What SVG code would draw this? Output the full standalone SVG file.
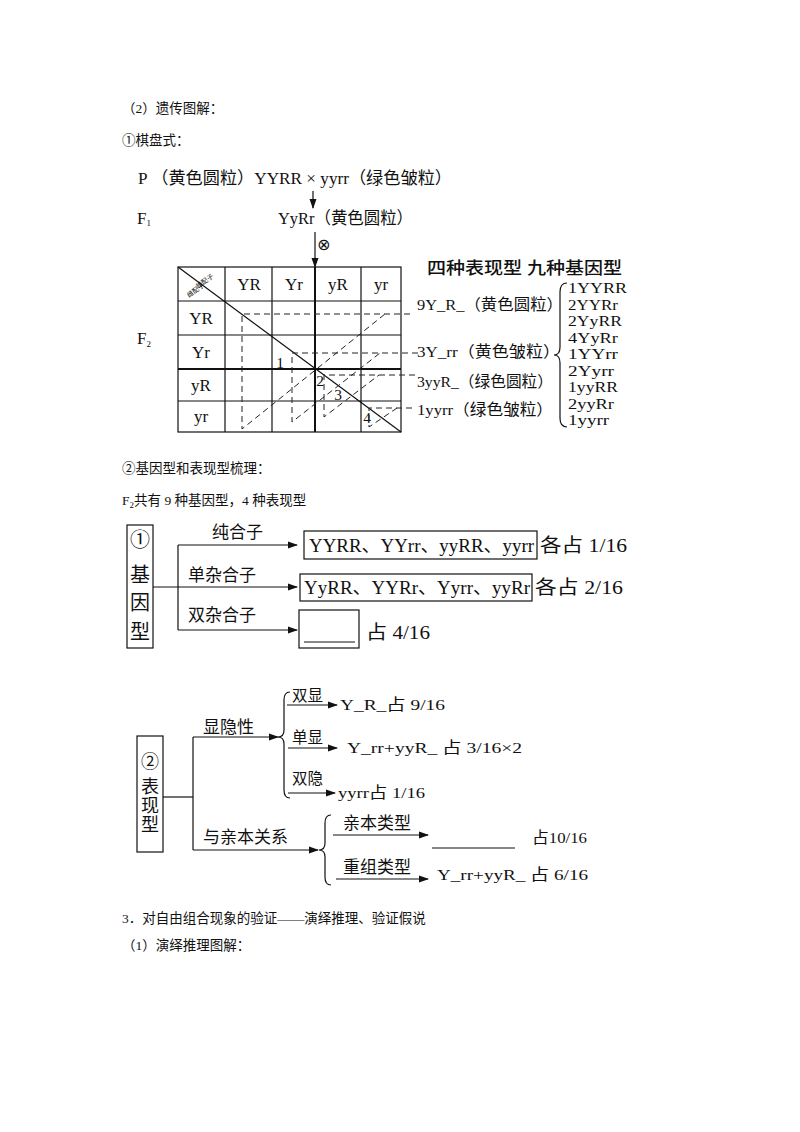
<svg xmlns="http://www.w3.org/2000/svg" width="800" height="1132" viewBox="0 0 800 1132">
<style>
text{font-family:'Liberation Serif','Noto Sans CJK SC',serif;fill:#111}
.h{font-size:13.5px}
.m{font-size:17px}
.s{font-size:15.5px}
.g{font-size:14.5px}
.b{font-size:19px}
.ln{stroke:#111;stroke-width:1.2;fill:none}
.th{stroke:#111;stroke-width:2;fill:none}
.d{stroke:#222;stroke-width:1;stroke-dasharray:6,4;fill:none}
.ar{stroke:#111;stroke-width:1.2;fill:none;marker-end:url(#ah)}
</style>
<defs>
<marker id="ah" markerWidth="10" markerHeight="8" refX="9" refY="4" orient="auto" markerUnits="userSpaceOnUse">
<path d="M0,0.5 L10,4 L0,7.5 Z" fill="#111"/>
</marker>
</defs>
<rect width="800" height="1132" fill="#fff"/>

<g id="headers">
<text class="h" x="122" y="113">（2）遗传图解：</text>
<text class="h" x="122" y="145">①棋盘式：</text>
<text class="h" x="122" y="473">②基因型和表现型梳理：</text>
<text class="h" x="122" y="505">F<tspan font-size="9" dy="3">2</tspan><tspan dy="-3">共有 9 种基因型，4 种表现型</tspan></text>
<text class="h" x="122" y="923">3．对自由组合现象的验证——演绎推理、验证假说</text>
<text class="h" x="122" y="950">（1）演绎推理图解：</text>
</g>

<g id="cross">
<text class="m" x="138" y="184" textLength="314" lengthAdjust="spacingAndGlyphs">P （黄色圆粒）YYRR × yyrr（绿色皱粒）</text>
<text class="m" x="137" y="224">F<tspan font-size="9" dy="2">1</tspan></text>
<text class="m" x="278" y="224" textLength="135" lengthAdjust="spacingAndGlyphs">YyRr（黄色圆粒）</text>
<text style="font-family:'DejaVu Sans',sans-serif;font-size:16px" x="317" y="250">⊗</text>
<text class="m" x="137" y="344">F<tspan font-size="9" dy="3">2</tspan></text>
</g>

<g id="punnett">
<rect x="178" y="267" width="223" height="165" class="ln"/>
<line x1="225" y1="267" x2="225" y2="432" class="ln"/>
<line x1="272" y1="267" x2="272" y2="432" class="ln"/>
<line x1="315" y1="267" x2="315" y2="432" class="th"/>
<line x1="361" y1="267" x2="361" y2="432" class="ln"/>
<line x1="178" y1="301" x2="401" y2="301" class="ln"/>
<line x1="178" y1="335" x2="401" y2="335" class="ln"/>
<line x1="178" y1="369" x2="401" y2="369" class="th"/>
<line x1="178" y1="401" x2="401" y2="401" class="ln"/>
<line x1="178" y1="267" x2="401" y2="432" class="ln"/>
<text font-size="6.5" transform="translate(206,283) rotate(-36)" text-anchor="middle">雄配子</text>
<text font-size="6.5" transform="translate(197,292) rotate(-36)" text-anchor="middle">雌配子</text>
<g class="m" text-anchor="middle">
<text x="249" y="290">YR</text>
<text x="294" y="290">Yr</text>
<text x="338" y="290">yR</text>
<text x="381" y="290">yr</text>
<text x="201" y="324">YR</text>
<text x="201" y="358">Yr</text>
<text x="201" y="391">yR</text>
<text x="201" y="422">yr</text>
</g>
<g class="s" text-anchor="middle">
<text x="280" y="368">1</text>
<text x="320" y="386">2</text>
<text x="338" y="400">3</text>
<text x="367" y="423">4</text>
</g>
<path class="d" d="M410,314 H242 V429 L385,314"/>
<path class="d" d="M418,353 H292 V422 L380,353"/>
<path class="d" d="M415,375 H324 V417 L379,375"/>
<path class="d" d="M412,408 H369 V427 L397,408"/>
</g>

<g id="phenotypes">
<text class="m" x="427" y="274" font-weight="500" textLength="195" lengthAdjust="spacingAndGlyphs">四种表现型  九种基因型</text>
<text class="s" x="417" y="310" textLength="146" lengthAdjust="spacingAndGlyphs">9Y_R_（黄色圆粒）</text>
<text class="s" x="417" y="357" textLength="143" lengthAdjust="spacingAndGlyphs">3Y_rr（黄色皱粒）</text>
<text class="s" x="417" y="387" textLength="136" lengthAdjust="spacingAndGlyphs">3yyR_（绿色圆粒）</text>
<text class="s" x="417" y="415" textLength="136" lengthAdjust="spacingAndGlyphs">1yyrr（绿色皱粒）</text>
<path class="ln" d="M567,283 Q560,283 560,292 L560,347 Q560,355 554,355 Q560,355 560,363 L560,418 Q560,427 567,427"/>
<g class="g" lengthAdjust="spacingAndGlyphs">
<text x="568" y="293" textLength="59" lengthAdjust="spacingAndGlyphs">1YYRR</text>
<text x="568" y="309.5" textLength="50" lengthAdjust="spacingAndGlyphs">2YYRr</text>
<text x="568" y="326" textLength="54" lengthAdjust="spacingAndGlyphs">2YyRR</text>
<text x="568" y="342.5" textLength="50" lengthAdjust="spacingAndGlyphs">4YyRr</text>
<text x="568" y="359" textLength="50" lengthAdjust="spacingAndGlyphs">1YYrr</text>
<text x="568" y="375.5" textLength="46" lengthAdjust="spacingAndGlyphs">2Yyrr</text>
<text x="568" y="392" textLength="50" lengthAdjust="spacingAndGlyphs">1yyRR</text>
<text x="568" y="408.5" textLength="46" lengthAdjust="spacingAndGlyphs">2yyRr</text>
<text x="568" y="425" textLength="41" lengthAdjust="spacingAndGlyphs">1yyrr</text>
</g>
</g>

<g id="genotype-box">
<rect x="127" y="525" width="26" height="123" class="ln"/>
<g font-size="20" text-anchor="middle">
<text x="140" y="547">①</text>
<text x="140" y="582">基</text>
<text x="140" y="610">因</text>
<text x="140" y="639">型</text>
</g>
</g>

<g id="genotype-items">
<text class="m" x="212" y="538">纯合子</text>
<text class="m" x="188" y="581">单杂合子</text>
<text class="m" x="188" y="621">双杂合子</text>
<rect x="304" y="531" width="233" height="28" class="ln"/>
<text class="b" x="309" y="552" textLength="225" lengthAdjust="spacingAndGlyphs">YYRR、YYrr、yyRR、yyrr</text>
<text class="b" x="540" y="552" textLength="87" lengthAdjust="spacingAndGlyphs">各占 1/16</text>
<rect x="300" y="574" width="232" height="27" class="ln"/>
<text class="b" x="304" y="594" textLength="226" lengthAdjust="spacingAndGlyphs">YyRR、YYRr、Yyrr、yyRr</text>
<text class="b" x="535" y="594" textLength="88" lengthAdjust="spacingAndGlyphs">各占 2/16</text>
<rect x="299" y="610" width="60" height="38" class="ln"/>
<line x1="304" y1="642" x2="355" y2="642" class="ln"/>
<text class="b" x="366" y="639" textLength="64" lengthAdjust="spacingAndGlyphs">占 4/16</text>
</g>

<g id="phenotype-box">
<rect x="137" y="736" width="26" height="116" class="ln"/>
<g font-size="18" text-anchor="middle">
<text x="150" y="768">②</text>
<text x="150" y="793">表</text>
<text x="150" y="812">现</text>
<text x="150" y="831">型</text>
</g>
</g>

<g id="phenotype-items">
<text class="m" x="203" y="733">显隐性</text>
<text class="m" x="203" y="843">与亲本关系</text>
<path class="ln" d="M290,692 Q284,692 284,700 L284,730 Q284,737 278,737 Q284,737 284,744 L284,790 Q284,798 290,798"/>
<text class="s" x="292" y="701">双显</text>
<text class="s" x="340" y="710" textLength="105" lengthAdjust="spacingAndGlyphs">Y_R_占 9/16</text>
<text class="s" x="292" y="743">单显</text>
<text class="s" x="347" y="753" textLength="175" lengthAdjust="spacingAndGlyphs">Y_rr+yyR_ 占 3/16×2</text>
<text class="s" x="292" y="784">双隐</text>
<text class="s" x="338" y="798" textLength="87" lengthAdjust="spacingAndGlyphs">yyrr占 1/16</text>
<path class="ln" d="M331,815 Q325,815 325,823 L325,843 Q325,850 319,850 Q325,850 325,857 L325,877 Q325,885 331,885"/>
<text class="m" x="343" y="829">亲本类型</text>
<line x1="432" y1="848" x2="515" y2="848" class="ln"/>
<text class="s" x="532" y="843" textLength="55" lengthAdjust="spacingAndGlyphs">占10/16</text>
<text class="m" x="343" y="873">重组类型</text>
<text class="s" x="437" y="880" textLength="151" lengthAdjust="spacingAndGlyphs">Y_rr+yyR_ 占 6/16</text>
</g>

<g id="connectors">
<line x1="313" y1="191" x2="313" y2="208" class="ar"/>
<line x1="315" y1="232" x2="315" y2="267" class="ar"/>
<line x1="153" y1="587" x2="297" y2="587" class="ar"/>
<line x1="178" y1="545" x2="178" y2="630" class="ln"/>
<line x1="178" y1="545" x2="297" y2="545" class="ar"/>
<line x1="178" y1="630" x2="297" y2="630" class="ar"/>
<line x1="163" y1="797" x2="193" y2="797" class="ln"/>
<line x1="193" y1="737" x2="193" y2="850" class="ln"/>
<line x1="193" y1="737" x2="278" y2="737" class="ar"/>
<line x1="193" y1="850" x2="318" y2="850" class="ar"/>
<line x1="287" y1="705" x2="337" y2="705" class="ar"/>
<line x1="288" y1="748" x2="337" y2="748" class="ar"/>
<line x1="288" y1="793" x2="335" y2="793" class="ar"/>
<line x1="333" y1="835" x2="428" y2="835" class="ar"/>
<line x1="336" y1="879" x2="428" y2="879" class="ar"/>
</g>
</svg>
